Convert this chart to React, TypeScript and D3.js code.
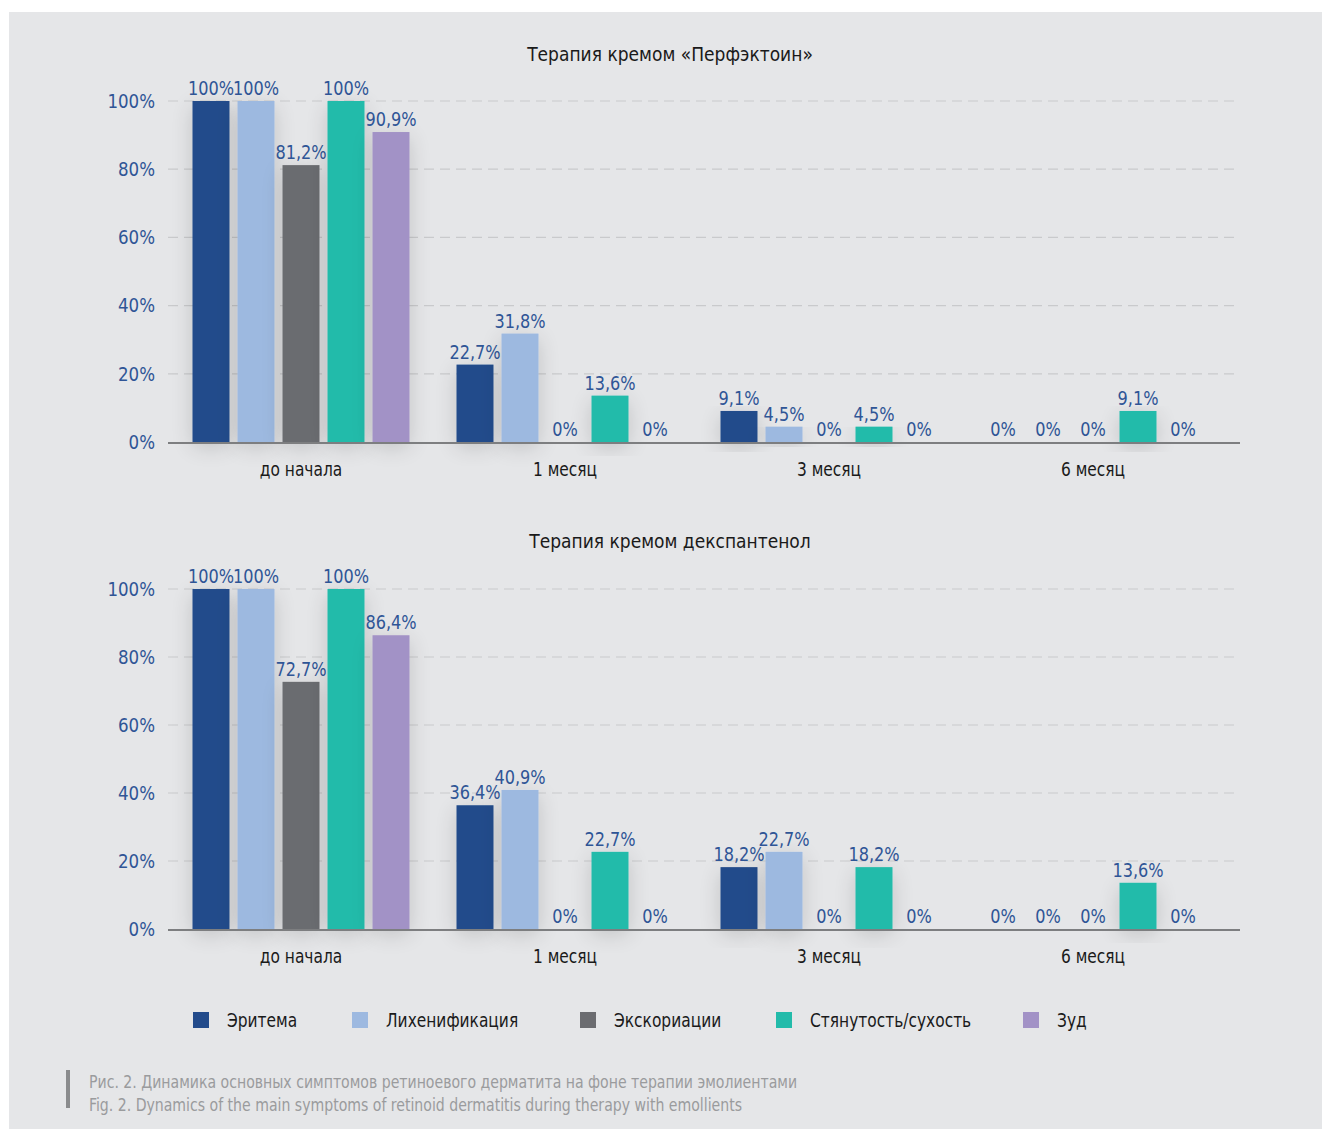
import * as d3 from 'd3'
import type { ReactNode } from 'react'

const categories = ['до начала', '1 месяц', '3 месяц', '6 месяц']
const seriesNames = ['Эритема', 'Лихенификация', 'Экскориации', 'Стянутость/сухость', 'Зуд']
const seriesColors = ['#224b8b', '#9db9e0', '#6b6c70', '#22bbaa', '#a292c6']
const yTicks = [0, 20, 40, 60, 80, 100]

// Перфэктоин
const topErythema = [100, 22.7, 9.1, 0]
const topLichen = [100, 31.8, 4.5, 0]
const topExcor = [81.2, 0, 0, 0]
const topDryness = [100, 13.6, 4.5, 9.1]
const topItch = [90.9, 0, 0, 0]

// декспантенол
const botErythema = [100, 36.4, 18.2, 0]
const botLichen = [100, 40.9, 22.7, 0]
const botExcor = [72.7, 0, 0, 0]
const botDryness = [100, 22.7, 18.2, 13.6]
const botItch = [86.4, 0, 0, 0]

const FONT = '"DejaVu Sans Condensed", "Liberation Sans Narrow", "Roboto", sans-serif'
const BLUE = '#2f5596'

const fmt = (v: number) => String(v).replace('.', ',') + '%'

// текст со сжатием по горизонтали (узкий шрифт)
function T({
  x,
  y,
  sx = 1,
  size,
  fill = '#1a1a1a',
  anchor = 'start',
  dy,
  children
}: {
  x: number
  y: number
  sx?: number
  size: number
  fill?: string
  anchor?: string
  dy?: string
  children: ReactNode
}) {
  return (
    <text
      transform={`translate(${x},${y}) scale(${sx},1)`}
      textAnchor={anchor}
      fontSize={size}
      fill={fill}
      fontFamily={FONT}
      dy={dy}
    >
      {children}
    </text>
  )
}

interface PanelProps {
  title: string
  titleY: number
  top: number
  bottom: number
  series: number[][]
  id: string
}

function Panel({ title, titleY, top, bottom, series, id }: PanelProps) {
  const x0 = d3.scaleBand().domain(categories).range([169, 1225])
  const x1 = d3.scaleBand().domain(seriesNames).range([-108.5, 108.5]).paddingInner(0.178)
  const y = d3.scaleLinear().domain([0, 100]).range([bottom, top])

  return (
    <g>
      <T x={670} y={titleY} anchor="middle" size={20} sx={0.95}>
        {title}
      </T>
      {yTicks.map(t => (
        <g key={t}>
          {t > 0 && (
            <line x1={168} x2={1235} y1={y(t)} y2={y(t)} stroke="#c9cacc" strokeWidth={1.2} strokeDasharray="10 6" />
          )}
          <T x={155} y={y(t)} dy="0.35em" anchor="end" size={19.5} sx={0.95} fill={BLUE}>
            {t}%
          </T>
        </g>
      ))}
      {categories.map((c, ci) => {
        const cx = (x0(c) || 0) + x0.bandwidth() / 2
        return (
          <g key={c}>
            {seriesNames.map((s, si) => {
              const v = series[si][ci]
              const bx = cx + (x1(s) || 0)
              const bw = x1.bandwidth()
              return (
                <g key={s}>
                  {v > 0 && (
                    <rect
                      x={bx}
                      y={y(v)}
                      width={bw}
                      height={bottom - y(v)}
                      fill={seriesColors[si]}
                      filter={`url(#shadow-${id})`}
                    />
                  )}
                  <T x={bx + bw / 2} y={y(v) - 6} anchor="middle" size={19.5} sx={0.92} fill={BLUE}>
                    {fmt(v)}
                  </T>
                </g>
              )
            })}
            <T x={cx} y={bottom + 34} anchor="middle" size={19.5} sx={0.88}>
              {c}
            </T>
          </g>
        )
      })}
      <line x1={168} x2={1240} y1={bottom + 1} y2={bottom + 1} stroke="#7d7e80" strokeWidth={2} />
    </g>
  )
}

export default function App() {
  const width = 1322
  const height = 1129
  const topSeries = [topErythema, topLichen, topExcor, topDryness, topItch]
  const botSeries = [botErythema, botLichen, botExcor, botDryness, botItch]
  const legendX = [193, 352, 580, 776, 1023]

  return (
    <svg width={width} height={height} style={{ position: 'absolute', left: 0, top: 0 }}>
      <defs>
        {['a', 'b'].map(k => (
          <filter key={k} id={`shadow-${k}`} x="-80%" y="-30%" width="260%" height="160%">
            <feGaussianBlur in="SourceAlpha" stdDeviation="11" />
            <feOffset dx="0" dy="5" result="blur" />
            <feComponentTransfer>
              <feFuncA type="linear" slope="0.16" />
            </feComponentTransfer>
            <feMerge>
              <feMergeNode />
              <feMergeNode in="SourceGraphic" />
            </feMerge>
          </filter>
        ))}
      </defs>
      <rect x={0} y={0} width={width} height={height} fill="#ffffff" />
      <rect x={9} y={12} width={width - 9} height={height - 12} fill="#e5e6e8" />

      <Panel title="Терапия кремом «Перфэктоин»" titleY={61} top={101} bottom={442} series={topSeries} id="a" />
      <Panel title="Терапия кремом декспантенол" titleY={548} top={589} bottom={929} series={botSeries} id="b" />

      {seriesNames.map((s, i) => (
        <g key={s}>
          <rect x={legendX[i]} y={1012} width={16} height={16} fill={seriesColors[i]} />
          <T x={legendX[i] + 34} y={1020} dy="0.35em" size={19.5} sx={0.88}>
            {s}
          </T>
        </g>
      ))}

      <rect x={66} y={1070} width={4} height={38} fill="#8a8b8d" />
      <T x={89} y={1088} size={18} sx={0.87} fill="#9a9b9d">
        Рис. 2. Динамика основных симптомов ретиноевого дерматита на фоне терапии эмолиентами
      </T>
      <T x={89} y={1111} size={18} sx={0.87} fill="#9a9b9d">
        Fig. 2. Dynamics of the main symptoms of retinoid dermatitis during therapy with emollients
      </T>
    </svg>
  )
}
